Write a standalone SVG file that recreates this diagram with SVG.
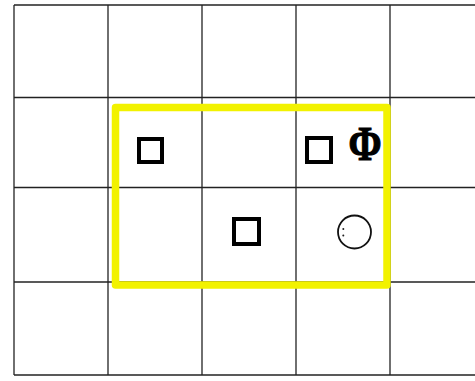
<svg xmlns="http://www.w3.org/2000/svg" width="475" height="381" viewBox="0 0 475 381">
<style>
.grid{stroke:#222;stroke-width:1.3;fill:none}
.sq{fill:none;stroke:#000;stroke-width:4}
.sel{fill:none;stroke:#f2f200;stroke-width:7.5;stroke-linejoin:round}
</style>
<rect width="475" height="381" fill="#fff"/>
<g id="grid" class="grid">
<line x1="14" y1="5" x2="475" y2="5"/>
<line x1="14" y1="97.5" x2="475" y2="97.5"/>
<line x1="14" y1="187.5" x2="475" y2="187.5"/>
<line x1="14" y1="282" x2="475" y2="282"/>
<line x1="14" y1="375" x2="475" y2="375"/>
<line x1="14" y1="5" x2="14" y2="375"/>
<line x1="108" y1="5" x2="108" y2="375"/>
<line x1="202" y1="5" x2="202" y2="375"/>
<line x1="296" y1="5" x2="296" y2="375"/>
<line x1="390" y1="5" x2="390" y2="375"/>
</g>
<g id="selection">
<rect class="sel" x="115.5" y="107.5" width="271.5" height="177.5"/>
</g>
<g id="square1"><rect class="sq" x="139" y="139" width="23" height="23"/></g>
<g id="square2"><rect class="sq" x="307" y="138" width="24" height="24"/></g>
<g id="square3"><rect class="sq" x="234" y="219" width="25" height="25"/></g>
<g id="phi"><text transform="translate(365,160) scale(1.05,1.3)" x="0" y="0" text-anchor="middle" font-family="Liberation Serif, serif" font-weight="bold" font-size="38" stroke="#000" stroke-width="0.9">Φ</text></g>
<g id="circle">
<circle cx="354.5" cy="232" r="16.5" fill="none" stroke="#111" stroke-width="1.8"/>
<circle cx="343.3" cy="229" r="1" fill="#222"/>
<circle cx="343.3" cy="235.5" r="1" fill="#222"/>
</g>
</svg>
